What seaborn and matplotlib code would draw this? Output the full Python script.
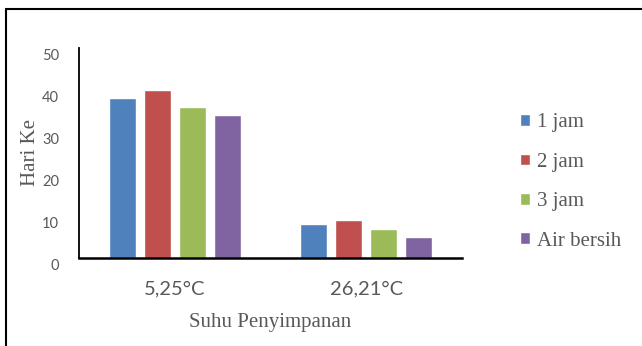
import matplotlib
matplotlib.use("Agg")
import matplotlib.pyplot as plt
import matplotlib.transforms as mtransforms
from matplotlib.lines import Line2D
import seaborn as sns
import pandas as pd

# Storage temperature groups and soaking-time series
suhu = ["5,25°C", "26,21°C"]
series = ["1 jam", "2 jam", "3 jam", "Air bersih"]
hari_1jam = [38, 8]
hari_2jam = [40, 9]
hari_3jam = [36, 7]
hari_air = [34, 5]
colors = ["#4F81BD", "#C0504D", "#9BBB59", "#8064A2"]
yticks = [0, 10, 20, 30, 40, 50]

rows = []
for name, vals in zip(series, [hari_1jam, hari_2jam, hari_3jam, hari_air]):
    for s, v in zip(suhu, vals):
        rows.append({"Suhu": s, "Perlakuan": name, "Hari": v})
df = pd.DataFrame(rows)

sns.set_theme(style="white")
plt.rcParams["font.family"] = ["Lato", "DejaVu Sans"]

W, H = 642, 346
fig = plt.figure(figsize=(W / 100, H / 100), dpi=100)
ax = fig.add_axes([79 / W, 1 - 258 / H, (462 - 79) / W, (258 - 48) / H])

sns.barplot(data=df, x="Suhu", y="Hari", hue="Perlakuan", hue_order=series,
            order=suhu, palette=colors, width=0.73, gap=0.22, ax=ax,
            saturation=1, legend=True)

ax.set_xlim(-0.5, 1.5)
ax.set_ylim(0, 50)
ax.set_yticks(yticks)
ax.set_yticklabels([str(t) for t in yticks])

gray = "#595959"
ax.tick_params(axis="y", length=0, pad=14.4, labelsize=10.5, labelcolor=gray)
ax.tick_params(axis="x", length=0, pad=16, labelsize=14.5, labelcolor=gray)
offset = mtransforms.ScaledTranslation(0, -7 / 100, fig.dpi_scale_trans)
for lab in ax.get_yticklabels():
    lab.set_transform(lab.get_transform() + offset)

for side in ["top", "right"]:
    ax.spines[side].set_visible(False)
ax.spines["left"].set_color("black")
ax.spines["left"].set_linewidth(1.3)
ax.spines["bottom"].set_color("black")
ax.spines["bottom"].set_linewidth(1.8)

serif = ["Liberation Serif", "DejaVu Serif"]
ax.set_ylabel("Hari Ke", family=serif, fontsize=15, color=gray)
ax.yaxis.set_label_coords((40 - 79) / 383, 0.5)
ax.set_xlabel("Suhu Penyimpanan", family=serif, fontsize=15, color=gray, labelpad=11)

leg = ax.legend(loc="center left", bbox_to_anchor=(512 / W, 1 - 182 / H),
                bbox_transform=fig.transFigure, frameon=False,
                prop={"family": serif, "size": 15},
                handlelength=0.48, handleheight=0.48, handletextpad=0.3,
                labelspacing=0.98, borderaxespad=0)
for t in leg.get_texts():
    t.set_color(gray)

# Outer frame along the top and left edges
fig.add_artist(Line2D([6 / W, 1], [1 - 9 / H, 1 - 9 / H], color="black",
                      lw=1.5, transform=fig.transFigure))
fig.add_artist(Line2D([6 / W, 6 / W], [0, 1 - 9 / H], color="black",
                      lw=1.5, transform=fig.transFigure))

fig.savefig("out.png", dpi=100)
